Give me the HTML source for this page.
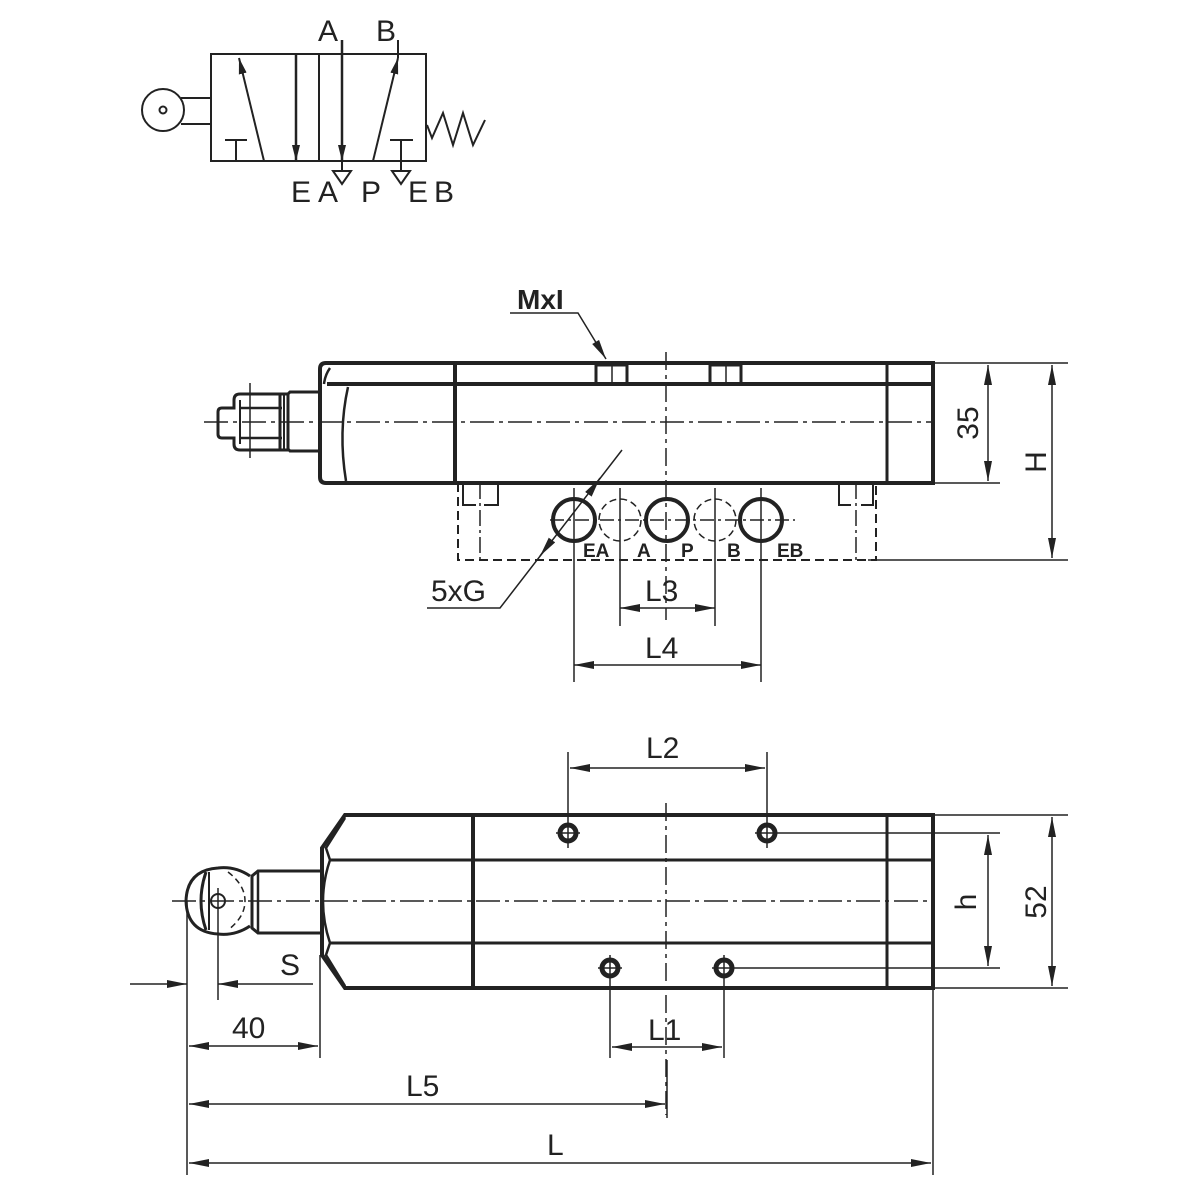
<!DOCTYPE html>
<html><head><meta charset="utf-8"><style>
html,body{margin:0;padding:0;background:#fff;}
svg{display:block;}
text{font-family:"Liberation Sans",sans-serif;fill:#222;}
</style></head><body>
<svg width="1200" height="1200" viewBox="0 0 1200 1200" xmlns="http://www.w3.org/2000/svg">
<defs>
<marker id="a" viewBox="0 0 20 10" refX="20" refY="5" markerWidth="20" markerHeight="10" markerUnits="userSpaceOnUse" orient="auto-start-reverse"><path d="M0,1 L20,5 L0,9 Z" fill="#222"/></marker>
<marker id="s" viewBox="0 0 16 10" refX="16" refY="5" markerWidth="16" markerHeight="10" markerUnits="userSpaceOnUse" orient="auto-start-reverse"><path d="M0,1 L16,5 L0,9 Z" fill="#222"/></marker>
</defs>
<g stroke="#222" fill="none" stroke-width="2">
<rect x="211" y="54" width="215" height="107"/>
<line x1="319" y1="54" x2="319" y2="161"/>
<circle cx="163" cy="110" r="21"/><circle cx="163" cy="110" r="3.5"/>
<line x1="181" y1="98" x2="211" y2="98"/><line x1="181" y1="124" x2="211" y2="124"/>
<line x1="264" y1="161" x2="239" y2="58" marker-end="url(#s)"/>
<line x1="225" y1="140" x2="247" y2="140"/><line x1="236" y1="140" x2="236" y2="161"/>
<line x1="296" y1="54" x2="296" y2="161" stroke-width="2.5" marker-end="url(#s)"/>
<line x1="342" y1="40" x2="342" y2="161" stroke-width="2.5" marker-end="url(#s)"/>
<line x1="342" y1="161" x2="342" y2="171"/>
<path d="M333,171 L351,171 L342,184 Z"/>
<line x1="373" y1="161" x2="398" y2="58" marker-end="url(#s)"/>
<line x1="398" y1="58" x2="398" y2="40"/>
<line x1="390" y1="140" x2="413" y2="140"/><line x1="401" y1="140" x2="401" y2="171"/>
<path d="M392,171 L410,171 L401,184 Z"/>
<polyline points="427,125 432,138 443,113 453,145 463,113 473,145 485,120"/>
</g>
<g font-size="30">
<text x="318" y="41">A</text><text x="376" y="41">B</text>
<text x="291" y="202">E</text><text x="318" y="202">A</text><text x="361" y="202">P</text><text x="408" y="202">E</text><text x="434" y="202">B</text>
</g>
<g stroke="#222" fill="none">
<path d="M326,363 L933,363 L933,483 L326,483 Q320,483 320,477 L320,369 Q320,363 326,363 Z" stroke-width="4"/>
<line x1="327" y1="384" x2="933" y2="384" stroke-width="4"/>
<path d="M330,368 Q325,375 324,384" stroke-width="2.5"/>
<path d="M348,387 Q338,432 346,481" stroke-width="2.5"/>
<line x1="455" y1="363" x2="455" y2="483" stroke-width="4"/>
<line x1="887" y1="363" x2="887" y2="483" stroke-width="3"/>
<rect x="596" y="365" width="31" height="19" stroke-width="3"/><line x1="612" y1="365" x2="612" y2="384" stroke-width="1.5"/>
<rect x="710" y="365" width="31" height="19" stroke-width="3"/><line x1="726" y1="365" x2="726" y2="384" stroke-width="1.5"/>
<path d="M320,392 L290,392 L288,394 L288,449 L290,451 L320,451" stroke-width="3"/>
<path d="M288,394 L240,394 Q234,394 234,400 L234,408 L222,408 Q218,408 218,412 L218,434 Q218,438 222,438 L234,438 L234,444 Q234,450 240,450 L288,450" stroke-width="3"/>
<line x1="280" y1="394" x2="280" y2="450" stroke-width="3"/>
<line x1="284" y1="394" x2="284" y2="450" stroke-width="2"/>
<line x1="240" y1="408" x2="282" y2="408" stroke-width="2.5"/>
<line x1="240" y1="438" x2="282" y2="438" stroke-width="2.5"/>
<line x1="240" y1="400" x2="240" y2="444" stroke-width="2"/>
<line x1="250" y1="383" x2="250" y2="458" stroke-width="1.5"/>
<line x1="204" y1="422" x2="933" y2="422" stroke-width="1.5" stroke-dasharray="24,5,4,5"/>
<line x1="666" y1="352" x2="666" y2="620" stroke-width="1.5" stroke-dasharray="18,5,4,5"/>
<path d="M458,483 L458,560 L876,560 L876,483" stroke-width="2" stroke-dasharray="9,5"/>
<path d="M463,483 L463,505 L476,505 M484,505 L498,505 L498,483" stroke-width="2"/>
<line x1="480" y1="483" x2="480" y2="560" stroke-width="1.5" stroke-dasharray="16,4,3,4"/>
<path d="M839,483 L839,505 L851,505 M861,505 L873,505 L873,483" stroke-width="2"/>
<line x1="856" y1="483" x2="856" y2="560" stroke-width="1.5" stroke-dasharray="16,4,3,4"/>
<circle cx="574" cy="520" r="21" stroke-width="4"/>
<circle cx="620" cy="520" r="21" stroke-width="1.5" stroke-dasharray="7,4"/>
<circle cx="667" cy="520" r="21" stroke-width="4"/>
<circle cx="715" cy="520" r="21" stroke-width="1.5" stroke-dasharray="7,4"/>
<circle cx="761" cy="520" r="21" stroke-width="4"/>
<line x1="550" y1="520" x2="795" y2="520" stroke-width="1.5" stroke-dasharray="14,4,3,4"/>
<g stroke-width="1.5">
<line x1="574" y1="488" x2="574" y2="682"/><line x1="620" y1="488" x2="620" y2="626"/>
<line x1="715" y1="488" x2="715" y2="626"/><line x1="761" y1="488" x2="761" y2="682"/>
<line x1="620" y1="608" x2="715" y2="608" marker-start="url(#a)" marker-end="url(#a)"/>
<line x1="574" y1="665" x2="761" y2="665" marker-start="url(#a)" marker-end="url(#a)"/>
<line x1="935" y1="363" x2="1068" y2="363"/><line x1="935" y1="483" x2="1000" y2="483"/>
<line x1="868" y1="560" x2="1068" y2="560"/>
<line x1="988" y1="365" x2="988" y2="481" marker-start="url(#a)" marker-end="url(#a)"/>
<line x1="1052" y1="365" x2="1052" y2="558" marker-start="url(#a)" marker-end="url(#a)"/>
<polyline points="510,313 578,313 606,359" marker-end="url(#a)"/>
<polyline points="427,608 500,608 622,450"/>
<line x1="600" y1="478" x2="590" y2="492" marker-start="url(#a)"/>
<line x1="540" y1="556" x2="552" y2="540" marker-start="url(#a)" />
</g>
</g>
<g font-size="30">
<text x="517" y="309" font-weight="bold" font-size="28">MxI</text>
<text x="431" y="601">5xG</text>
<text x="645" y="601">L3</text>
<text x="645" y="658">L4</text>
<text transform="translate(978,423) rotate(-90)" text-anchor="middle">35</text>
<text transform="translate(1046,462) rotate(-90)" text-anchor="middle">H</text>
</g>
<g font-size="19" font-weight="bold">
<text x="583" y="557">EA</text><text x="637" y="557">A</text><text x="681" y="557">P</text><text x="727" y="557">B</text><text x="777" y="557">EB</text>
</g>
<g stroke="#222" fill="none">
<path d="M345,815 L933,815 L933,988 L345,988 L322,955 L322,848 Z" stroke-width="4"/>
<path d="M345,818 L326,848 L330,860 Q316,901 330,943 L326,955 L345,986" stroke-width="2.5"/>
<line x1="330" y1="860" x2="933" y2="860" stroke-width="3"/>
<line x1="330" y1="943" x2="933" y2="943" stroke-width="3"/>
<line x1="473" y1="815" x2="473" y2="988" stroke-width="4"/>
<line x1="887" y1="815" x2="887" y2="990" stroke-width="3"/>
<path d="M320,871 L258,871 L252,876 L252,928 L258,933 L320,933" stroke-width="3"/>
<line x1="258" y1="871" x2="258" y2="933" stroke-width="2.5"/>
<path d="M250,876 Q235,866 218,868 Q187,870 186,901 Q187,932 218,934 Q235,936 250,926" stroke-width="3"/>
<path d="M206,872 Q196,901 206,930" stroke-width="3"/>
<line x1="209" y1="872" x2="209" y2="930" stroke-width="2"/>
<path d="M228,872 Q245,885 245,901 Q245,917 228,930" stroke-width="1.5" stroke-dasharray="6,4"/>
<circle cx="218" cy="901" r="7" stroke-width="2"/>
<line x1="218" y1="888" x2="218" y2="1000" stroke-width="1.5"/>
<line x1="172" y1="901" x2="933" y2="901" stroke-width="1.5" stroke-dasharray="24,5,4,5"/>
<line x1="666" y1="803" x2="666" y2="1115" stroke-width="1.5" stroke-dasharray="18,5,4,5"/>
<g stroke-width="5">
<circle cx="568" cy="833" r="8"/><circle cx="767" cy="833" r="8"/>
<circle cx="610" cy="968" r="8"/><circle cx="724" cy="968" r="8"/>
</g>
<g stroke-width="1.5">
<line x1="568" y1="752" x2="568" y2="848"/><line x1="767" y1="752" x2="767" y2="848"/>
<line x1="556" y1="833" x2="580" y2="833"/><line x1="755" y1="833" x2="1000" y2="833"/>
<line x1="610" y1="955" x2="610" y2="1058"/><line x1="724" y1="955" x2="724" y2="1058"/>
<line x1="598" y1="968" x2="622" y2="968"/><line x1="712" y1="968" x2="1000" y2="968"/>
<line x1="570" y1="768" x2="765" y2="768" marker-start="url(#a)" marker-end="url(#a)"/>
<line x1="612" y1="1047" x2="722" y2="1047" marker-start="url(#a)" marker-end="url(#a)"/>
<line x1="935" y1="815" x2="1068" y2="815"/><line x1="935" y1="988" x2="1068" y2="988"/>
<line x1="988" y1="835" x2="988" y2="966" marker-start="url(#a)" marker-end="url(#a)"/>
<line x1="1052" y1="817" x2="1052" y2="986" marker-start="url(#a)" marker-end="url(#a)"/>
<line x1="187" y1="901" x2="187" y2="1175"/>
<line x1="320" y1="955" x2="320" y2="1058"/>
<line x1="933" y1="990" x2="933" y2="1175"/>
<line x1="667" y1="1060" x2="667" y2="1118"/>
<line x1="130" y1="984" x2="187" y2="984" marker-end="url(#a)"/>
<line x1="313" y1="984" x2="218" y2="984" marker-end="url(#a)"/>
<line x1="189" y1="1046" x2="318" y2="1046" marker-start="url(#a)" marker-end="url(#a)"/>
<line x1="189" y1="1104" x2="665" y2="1104" marker-start="url(#a)" marker-end="url(#a)"/>
<line x1="189" y1="1163" x2="931" y2="1163" marker-start="url(#a)" marker-end="url(#a)"/>
</g>
</g>
<g font-size="30">
<text x="646" y="758">L2</text>
<text x="648" y="1040">L1</text>
<text x="280" y="975">S</text>
<text x="232" y="1038">40</text>
<text x="406" y="1096">L5</text>
<text x="547" y="1155">L</text>
<text transform="translate(976,902) rotate(-90)" text-anchor="middle">h</text>
<text transform="translate(1046,902) rotate(-90)" text-anchor="middle">52</text>
</g>
</svg>
</body></html>
